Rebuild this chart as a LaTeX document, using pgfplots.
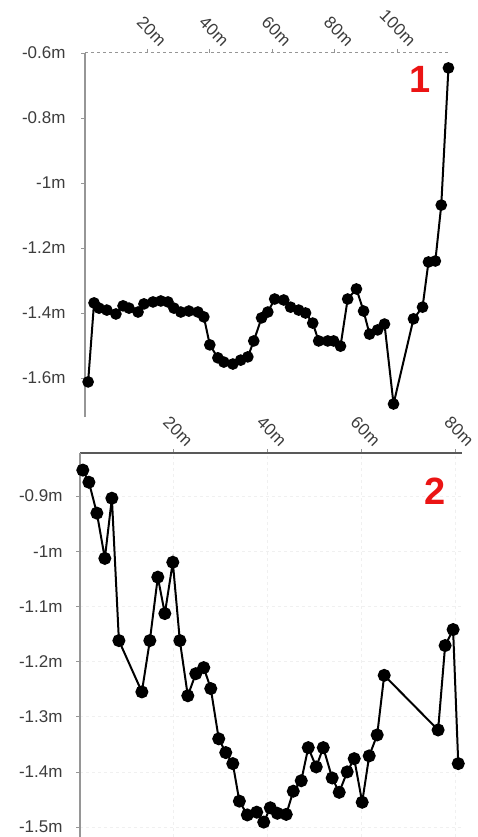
\documentclass[border=0pt]{standalone}
\usepackage{fontspec}
\setmainfont{Liberation Sans}
\usepackage{pgfplots}
\pgfplotsset{compat=1.18}
\definecolor{lbl}{RGB}{60,60,60}
\definecolor{axg}{RGB}{150,150,150}
\definecolor{numred}{RGB}{235,20,20}
\begin{document}
\begin{tikzpicture}
\useasboundingbox (0,0) rectangle (477pt,-837pt);
\pgfplotsset{
  every tick label/.append style={font=\fontsize{17}{17}\selectfont, text=lbl},
}
% ---------- chart 1 ----------
\begin{axis}[
  at={(85pt,-417pt)}, anchor=south west,
  scale only axis, width=365pt, height=364pt,
  xmin=0, xmax=117, ymin=-1.72, ymax=-0.6,
  axis x line*=top, axis y line*=left,
  x axis line style={-, dashed, axg, line width=1pt},
  y axis line style={-, axg, line width=1.3pt},
  tick align=outside, major tick length=4pt,
  tick style={axg, line width=0.8pt},
  xtick={20,40,60,80,100},
  xticklabels={20m,40m,60m,80m,100m},
  ytick={-0.6,-0.8,-1,-1.2,-1.4,-1.6},
  yticklabels={-0.6m,-0.8m,-1m,-1.2m,-1.4m,-1.6m},
  xticklabel style={rotate=-45, anchor=south east, xshift=10.5pt, yshift=6pt},
  yticklabel style={xshift=-12pt},
  clip=false,
]
\addplot[black, line width=2pt, mark=*, mark size=4.8pt] coordinates {
(1.0,-1.612) (2.9,-1.369) (4.5,-1.385) (7.0,-1.391) (9.9,-1.403)
(12.2,-1.378) (14.1,-1.385) (17.0,-1.397) (18.9,-1.372) (21.8,-1.366)
(24.3,-1.363) (26.6,-1.366) (28.5,-1.385) (30.7,-1.397) (33.3,-1.394)
(36.2,-1.397) (38.1,-1.412) (40.0,-1.498) (42.6,-1.538) (44.5,-1.551)
(47.4,-1.557) (49.9,-1.545) (52.2,-1.535) (54.1,-1.486) (56.6,-1.415)
(58.6,-1.397) (60.8,-1.357) (63.7,-1.360) (65.9,-1.382) (68.5,-1.391)
(70.7,-1.400) (73.0,-1.431) (74.9,-1.486) (77.8,-1.486) (79.7,-1.486)
(81.9,-1.502) (84.2,-1.357) (87.0,-1.326) (89.3,-1.394) (91.2,-1.465)
(93.8,-1.452) (96.0,-1.434) (98.9,-1.680) (105.3,-1.418) (108.2,-1.382)
(110.1,-1.243) (112.3,-1.240) (114.2,-1.068) (116.5,-0.646)
};
\end{axis}
% ---------- chart 2 ----------
\begin{axis}[
  at={(80pt,-837pt)}, anchor=south west,
  scale only axis, width=382pt, height=384pt,
  xmin=0, xmax=81.5, ymin=-1.518, ymax=-0.822,
  axis x line*=top, axis y line*=left,
  x axis line style={-, black!65, line width=1.3pt},
  y axis line style={-, axg, line width=1.3pt},
  tick align=outside, major tick length=4pt,
  tick style={axg, line width=0.8pt},
  grid=major, grid style={black!6, line width=0.8pt, dashed},
  xtick={20,40,60,80},
  xticklabels={20m,40m,60m,80m},
  ytick={-0.9,-1,-1.1,-1.2,-1.3,-1.4,-1.5},
  yticklabels={-0.9m,-1m,-1.1m,-1.2m,-1.3m,-1.4m,-1.5m},
  xticklabel style={rotate=-45, anchor=south east, xshift=10.5pt, yshift=6pt},
  yticklabel style={xshift=-10pt},
  clip=false,
]
\addplot[black, line width=2pt, mark=*, mark size=5.5pt] coordinates {
(0.6,-0.853) (1.9,-0.875) (3.6,-0.931) (5.3,-1.013) (6.8,-0.904)
(8.3,-1.162) (13.2,-1.255) (14.9,-1.162) (16.6,-1.047) (18.1,-1.113)
(19.8,-1.020) (21.3,-1.162) (23.0,-1.262) (24.7,-1.222) (26.4,-1.211)
(27.9,-1.249) (29.6,-1.340) (31.1,-1.365) (32.6,-1.385) (34.0,-1.453)
(35.7,-1.478) (37.7,-1.473) (39.2,-1.491) (40.6,-1.465) (42.1,-1.475)
(44.0,-1.477) (45.5,-1.435) (47.2,-1.416) (48.7,-1.356) (50.4,-1.391)
(51.9,-1.356) (53.8,-1.411) (55.3,-1.437) (57.0,-1.400) (58.5,-1.376)
(60.2,-1.455) (61.7,-1.371) (63.4,-1.333) (64.9,-1.225) (76.4,-1.324)
(77.9,-1.171) (79.6,-1.142) (80.7,-1.385)
};
\end{axis}
\node[text=numred, font=\fontsize{38}{38}\selectfont\bfseries] at (420pt,-79pt) {1};
\node[text=numred, font=\fontsize{38}{38}\selectfont\bfseries] at (435pt,-491pt) {2};
\end{tikzpicture}
\end{document}
